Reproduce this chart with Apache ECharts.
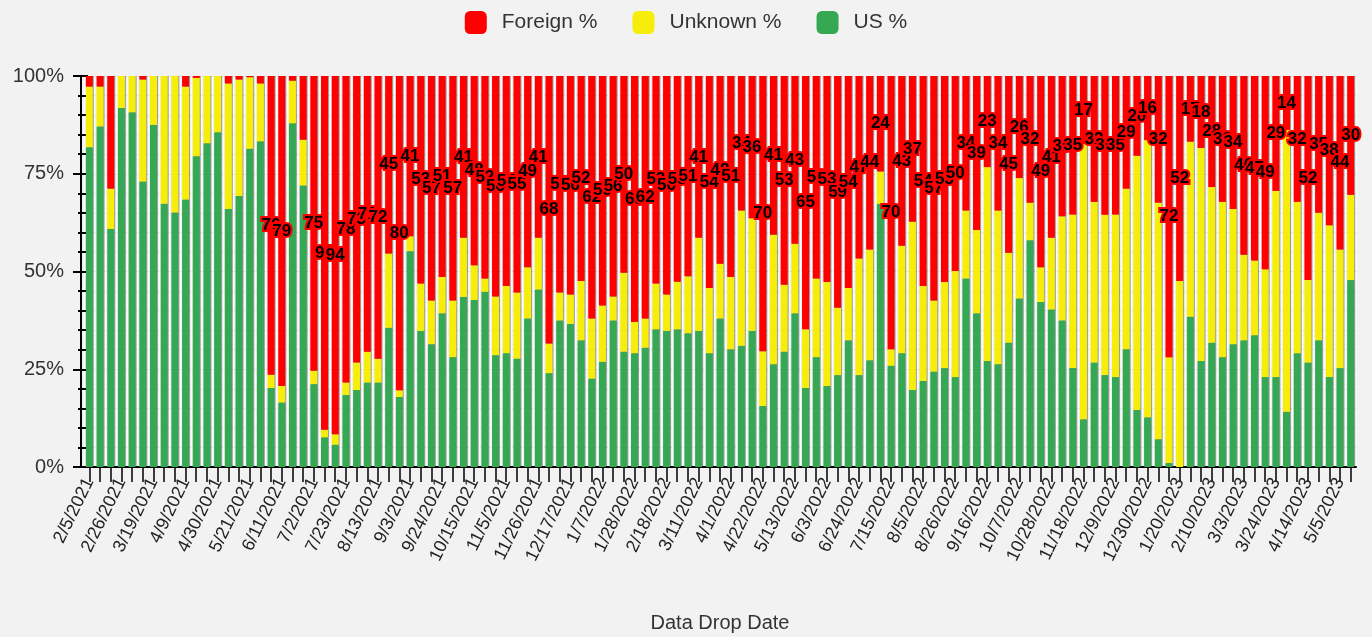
<!DOCTYPE html>
<html>
<head>
<meta charset="utf-8">
<script src="https://cdn.jsdelivr.net/npm/echarts@6/dist/echarts.min.js"></script>
<style>
html,body{margin:0;padding:0;background:#f2f2f2;}
#chart{width:1372px;height:637px;}
</style>
</head>
<body>
<div id="chart"></div>
<script>
const dates = [
'2/5/2021','2/12/2021','2/19/2021','2/26/2021','3/5/2021','3/12/2021','3/19/2021','3/26/2021','4/2/2021','4/9/2021',
'4/16/2021','4/23/2021','4/30/2021','5/7/2021','5/14/2021','5/21/2021','5/28/2021','6/4/2021','6/11/2021','6/18/2021',
'6/25/2021','7/2/2021','7/9/2021','7/16/2021','7/23/2021','7/30/2021','8/6/2021','8/13/2021','8/20/2021','8/27/2021',
'9/3/2021','9/10/2021','9/17/2021','9/24/2021','10/1/2021','10/8/2021','10/15/2021','10/22/2021','10/29/2021','11/5/2021',
'11/12/2021','11/19/2021','11/26/2021','12/3/2021','12/10/2021','12/17/2021','12/24/2021','12/31/2021',
'1/7/2022','1/14/2022','1/21/2022','1/28/2022','2/4/2022','2/11/2022','2/18/2022','2/25/2022','3/4/2022','3/11/2022',
'3/18/2022','3/25/2022','4/1/2022','4/8/2022','4/15/2022','4/22/2022','4/29/2022','5/6/2022','5/13/2022','5/20/2022',
'5/27/2022','6/3/2022','6/10/2022','6/17/2022','6/24/2022','7/1/2022','7/8/2022','7/15/2022','7/22/2022','7/29/2022',
'8/5/2022','8/12/2022','8/19/2022','8/26/2022','9/2/2022','9/9/2022','9/16/2022','9/23/2022','9/30/2022','10/7/2022',
'10/14/2022','10/21/2022','10/28/2022','11/4/2022','11/11/2022','11/18/2022','11/25/2022','12/2/2022','12/9/2022','12/16/2022',
'12/23/2022','12/30/2022','1/6/2023','1/13/2023','1/20/2023','1/27/2023','2/3/2023','2/10/2023','2/17/2023','2/24/2023',
'3/3/2023','3/10/2023','3/17/2023','3/24/2023','3/31/2023','4/7/2023','4/14/2023','4/21/2023','4/28/2023','5/5/2023','5/12/2023'
];

const usPct = [
81.8,87.1,60.9,91.8,90.7,73.0,87.5,67.3,65.1,68.4,
79.5,82.8,85.6,66.0,69.3,81.4,83.3,20.2,16.5,87.9,
72.0,21.2,7.6,5.7,18.4,19.7,21.6,21.6,35.6,17.9,
55.2,34.8,31.4,39.3,28.1,43.5,42.7,44.8,28.6,29.1,
27.7,38.0,45.4,24.0,37.5,36.6,32.4,22.6,26.9,37.5,
29.5,29.1,30.5,35.2,34.8,35.2,34.2,34.8,29.1,38.0,
30.1,31.0,34.8,15.6,26.3,29.5,39.3,20.2,28.1,20.7,
23.5,32.4,23.5,27.3,67.3,25.9,29.1,19.7,22.0,24.4,
25.3,23.0,48.2,39.3,27.1,26.3,31.8,43.1,58.0,42.2,
40.3,37.5,25.3,12.2,26.7,23.5,23.0,30.1,14.6,12.7,
7.1,1.0,0,38.4,27.1,31.8,28.1,31.4,32.4,33.7,
23.0,23.0,14.1,29.1,26.7,32.4,23.0,25.3,47.8
];

const unknownPct = [
15.5,10.2,10.3,8.2,9.3,26.1,12.5,32.7,34.9,28.9,
20.0,17.2,14.4,32.1,29.8,18.3,14.8,3.4,4.2,10.9,
11.7,3.4,1.9,2.7,3.2,7.0,7.9,6.1,19.0,1.7,
3.8,12.1,11.2,9.3,14.5,15.1,8.9,3.4,15.0,17.2,
16.9,13.1,13.2,7.6,7.1,7.5,15.2,15.4,14.4,6.1,
20.2,8.0,7.5,11.7,9.3,12.2,14.6,23.8,16.7,14.0,
18.5,34.6,28.8,14.0,33.1,17.1,17.8,15.0,20.1,26.6,
17.2,13.4,29.8,28.3,8.3,4.2,27.5,43.0,24.3,18.2,
22.0,27.1,17.4,21.3,49.6,39.3,23.0,30.8,9.6,8.9,
18.3,26.6,39.3,70.4,41.1,41.0,41.6,41.1,65.0,70.9,
60.5,27.1,47.6,44.8,54.5,39.8,39.7,34.6,21.9,19.1,
27.6,47.6,72.1,38.7,21.1,32.6,38.8,30.3,21.8
];

const foreignPct = [
2.7,2.7,28.8,0,0,0.9,0,0,0,2.7,
0.5,0,0,1.9,0.9,0.3,1.9,76.4,79.3,1.2,
16.3,75.4,91.0,94.0,78.4,73.3,70.5,72.3,45.4,80.4,
41.0,53.1,57.4,51.4,57.4,41.4,48.4,51.8,56.4,53.7,
55.4,48.9,41.4,68.4,55.4,55.9,52.4,62.0,58.7,56.4,
50.3,62.9,62.0,53.1,55.9,52.6,51.2,41.4,54.2,48.0,
51.4,34.4,36.4,70.4,40.6,53.4,42.9,64.8,51.8,52.7,
59.3,54.2,46.7,44.4,24.4,69.9,43.4,37.3,53.7,57.4,
52.7,49.9,34.4,39.4,23.3,34.4,45.2,26.1,32.4,48.9,
41.4,35.9,35.4,17.4,32.2,35.5,35.4,28.8,20.4,16.4,
32.4,71.9,52.4,16.8,18.4,28.4,32.2,34.0,45.7,47.2,
49.4,29.4,13.8,32.2,52.2,35.0,38.2,44.4,30.4
];

// weeks whose Foreign % carries no value label in the reference
const unlabeledWeeks = ['6/18/2021','6/25/2021'];
const firstLabeledWeek = '6/4/2021';

const chart = echarts.init(document.getElementById('chart'));
const firstIdx = dates.indexOf(firstLabeledWeek);
const FONT = 'Liberation Sans, Arial, sans-serif';
const shadow = {shadowColor:'rgba(0,0,0,0.35)', shadowOffsetX:1, shadowBlur:0};

chart.setOption({
  animation:false,
  backgroundColor:'#f2f2f2',
  textStyle:{fontFamily:FONT},
  legend:{
    top:6, left:'center',
    data:['Foreign %','Unknown %','US %'],
    icon:'roundRect', itemWidth:22, itemHeight:23, itemGap:35,
    textStyle:{fontSize:21, color:'#333', fontFamily:FONT, padding:[0,0,0,10]}
  },
  grid:{left:84, right:16, top:76, bottom:170, containLabel:false, outerBoundsMode:'none'},
  xAxis:[{
    type:'category', data:dates,
    axisLine:{lineStyle:{color:'#000', width:2}},
    axisTick:{show:true, interval:0, alignWithLabel:true, length:15, lineStyle:{color:'#000', width:1.5}},
    axisLabel:{interval:2, rotate:64, fontSize:18, color:'#222', margin:12, fontFamily:FONT},
    splitLine:{show:true, interval:0, lineStyle:{color:'#fbfbfb', width:1}},
    name:'Data Drop Date', nameLocation:'middle', nameGap:146,
    nameTextStyle:{fontSize:20, color:'#333', fontFamily:FONT}
  },{
    type:'category', data:dates, position:'bottom',
    axisLine:{show:false},
    axisTick:{show:true, inside:true, interval:0, alignWithLabel:true, length:7, lineStyle:{color:'#000', width:1.5}},
    axisLabel:{show:false}, splitLine:{show:false}
  }],
  yAxis:[{
    type:'value', min:0, max:100, interval:25, offset:3, position:'left',
    axisLine:{show:true, lineStyle:{color:'#000', width:2}},
    axisTick:{show:true, length:8, lineStyle:{color:'#000', width:2}},
    minorTick:{show:true, splitNumber:5, length:3, lineStyle:{color:'#000', width:2}},
    axisLabel:{formatter:'{value}%', fontSize:20, color:'#333', margin:17, fontFamily:FONT},
    splitLine:{show:true, lineStyle:{color:'#d9d9d9', width:1}},
    minorSplitLine:{show:true, lineStyle:{color:'#dddddd', width:1}}
  },{
    type:'value', min:0, max:100, interval:25, offset:3, position:'left',
    axisLine:{show:false},
    axisTick:{show:true, inside:true, length:7, lineStyle:{color:'#000', width:2}},
    minorTick:{show:true, splitNumber:5, length:5, lineStyle:{color:'#000', width:2}},
    axisLabel:{show:false}, splitLine:{show:false}
  }],
  series:[{
    name:'US %', type:'bar', stack:'total', data:usPct, barWidth:7,
    itemStyle:Object.assign({color:'#34a853'}, shadow)
  },{
    name:'Unknown %', type:'bar', stack:'total', data:unknownPct, barWidth:7,
    itemStyle:Object.assign({color:'#f6ee0a'}, shadow)
  },{
    name:'Foreign %', type:'bar', stack:'total', data:foreignPct, barWidth:7,
    itemStyle:Object.assign({color:'#ff0000'}, shadow),
    label:{
      show:true, position:'inside', color:'#000', fontWeight:'bold', fontSize:17,
      fontFamily:FONT, textBorderColor:'#ff0000', textBorderWidth:4,
      formatter:function(p){
        if (p.dataIndex < firstIdx || unlabeledWeeks.indexOf(p.name) >= 0) return '';
        return String(Math.round(p.value));
      }
    }
  }]
});
</script>
</body>
</html>
